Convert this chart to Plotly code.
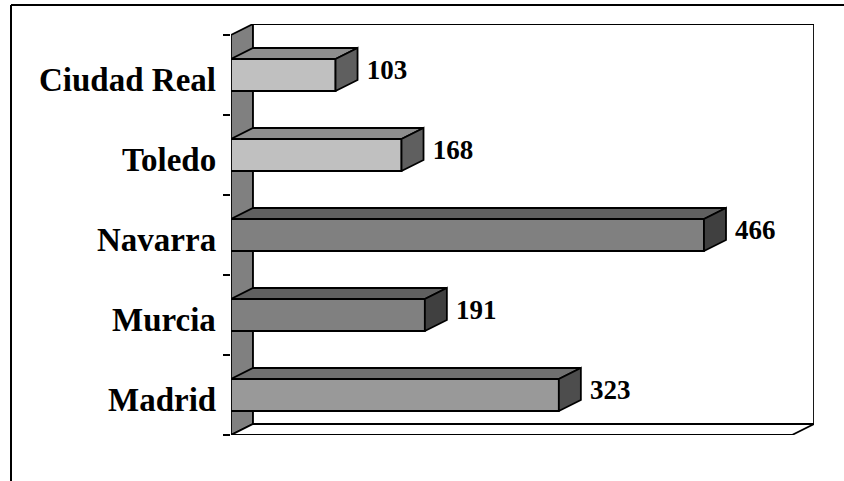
import plotly.graph_objects as go

# ---- data ----
categories = ["Madrid", "Murcia", "Navarra", "Toledo", "Ciudad Real"]
values = [323, 191, 466, 168, 103]
front_colors = ["#999999", "#808080", "#808080", "#c0c0c0", "#c0c0c0"]
top_colors = ["#707070", "#606060", "#606060", "#8e8e8e", "#8e8e8e"]
side_colors = ["#4d4d4d", "#404040", "#404040", "#5f5f5f", "#5f5f5f"]

# ---- geometry (axis units) ----
W, H = 844, 481
L, R, T, B = 231, 30, 24, 46
plot_w = W - L - R          # 583 px
plot_h = H - T - B
px_per_unit = 1.015
XMAX = plot_w / px_per_unit
DX = 22 / px_per_unit        # depth offset in x units
DY = 11 / 80                 # depth offset in category units
BW = 0.4                     # bar thickness
YLO, YHI = -0.5, len(categories) - 0.5
LW = 1.8

pos = list(range(len(categories)))
fig = go.Figure()

# front faces as real bars
fig.add_trace(go.Bar(
    x=values, y=pos, orientation="h", width=BW,
    marker=dict(color=front_colors, line=dict(color="black", width=LW)),
    hoverinfo="skip", showlegend=False,
))

# 3D top and side faces derived from values
for c, v, tc, sc in zip(pos, values, top_colors, side_colors):
    fig.add_trace(go.Scatter(
        x=[0, DX, v + DX, v, 0],
        y=[c + BW / 2, c + BW / 2 + DY, c + BW / 2 + DY, c + BW / 2, c + BW / 2],
        fill="toself", fillcolor=tc, mode="lines",
        line=dict(color="black", width=LW), hoverinfo="skip", showlegend=False,
    ))
    fig.add_trace(go.Scatter(
        x=[v, v, v + DX, v + DX, v],
        y=[c - BW / 2, c + BW / 2, c + BW / 2 + DY, c - BW / 2 + DY, c - BW / 2],
        fill="toself", fillcolor=sc, mode="lines",
        line=dict(color="black", width=LW), hoverinfo="skip", showlegend=False,
    ))

# value labels
fig.add_trace(go.Scatter(
    x=[v + DX + 9 for v in values], y=[c + 0.04 for c in pos],
    mode="text", text=[str(v) for v in values], textposition="middle right",
    textfont=dict(family="Liberation Serif", size=27, color="black", weight="bold"),
    hoverinfo="skip", showlegend=False,
))

# category labels
annotations = [
    dict(x=0, y=c, xref="x", yref="y", text=name, showarrow=False,
         xanchor="right", yanchor="middle", xshift=-13, yshift=-5,
         font=dict(family="Liberation Serif", size=33, color="black", weight="bold"))
    for c, name in zip(pos, categories)
]

# walls / floor (below traces)
shapes = [
    dict(type="path", layer="below", xref="x", yref="y",
         path=f"M 0 {YLO} L 0 {YHI} L {DX} {YHI + DY} L {DX} {YLO + DY} Z",
         fillcolor="#808080", line=dict(color="black", width=LW)),
    dict(type="path", layer="below", xref="x", yref="y",
         path=f"M {DX} {YLO + DY} L {DX} {YHI + DY} L {XMAX} {YHI + DY} L {XMAX} {YLO + DY} Z",
         fillcolor="white", line=dict(color="black", width=LW)),
    dict(type="path", layer="below", xref="x", yref="y",
         path=f"M 0 {YLO} L {DX} {YLO + DY} L {XMAX} {YLO + DY} L {XMAX - DX} {YLO} Z",
         fillcolor="white", line=dict(color="black", width=LW)),
]
# outer chart frame (cropped)
fx0 = (11 - L) / plot_w
fx1 = (W + 5 - L) / plot_w
fy_top = (H - B - 5) / plot_h
fy_bot = (H - B - H - 5) / plot_h
shapes.append(dict(type="line", xref="paper", yref="paper", x0=fx0, x1=fx1, y0=fy_top, y1=fy_top,
                   line=dict(color="black", width=2)))
shapes.append(dict(type="line", xref="paper", yref="paper", x0=fx0, x1=fx0, y0=fy_top, y1=fy_bot,
                   line=dict(color="black", width=2)))

fig.update_layout(
    width=W, height=H,
    margin=dict(l=L, r=R, t=T, b=B, pad=0),
    paper_bgcolor="white", plot_bgcolor="rgba(0,0,0,0)",
    shapes=shapes, annotations=annotations,
    xaxis=dict(range=[0, XMAX], showgrid=False, zeroline=False, showticklabels=False,
               ticks="", showline=False, fixedrange=True),
    yaxis=dict(range=[YLO, YHI + DY], tickmode="array", tickvals=pos,
               showticklabels=False, ticks="", showgrid=False, zeroline=False, showline=False,
               minor=dict(tickmode="array", tickvals=[p - 0.5 for p in pos] + [YHI],
                          ticks="outside", ticklen=7, tickwidth=1.5, tickcolor="black",
                          showgrid=False),
               fixedrange=True),
    font=dict(family="Liberation Serif", color="black"),
)

fig.write_html("out.html", config={"displayModeBar": False},
               post_script="document.body.style.margin='0';document.body.style.overflow='hidden';")
